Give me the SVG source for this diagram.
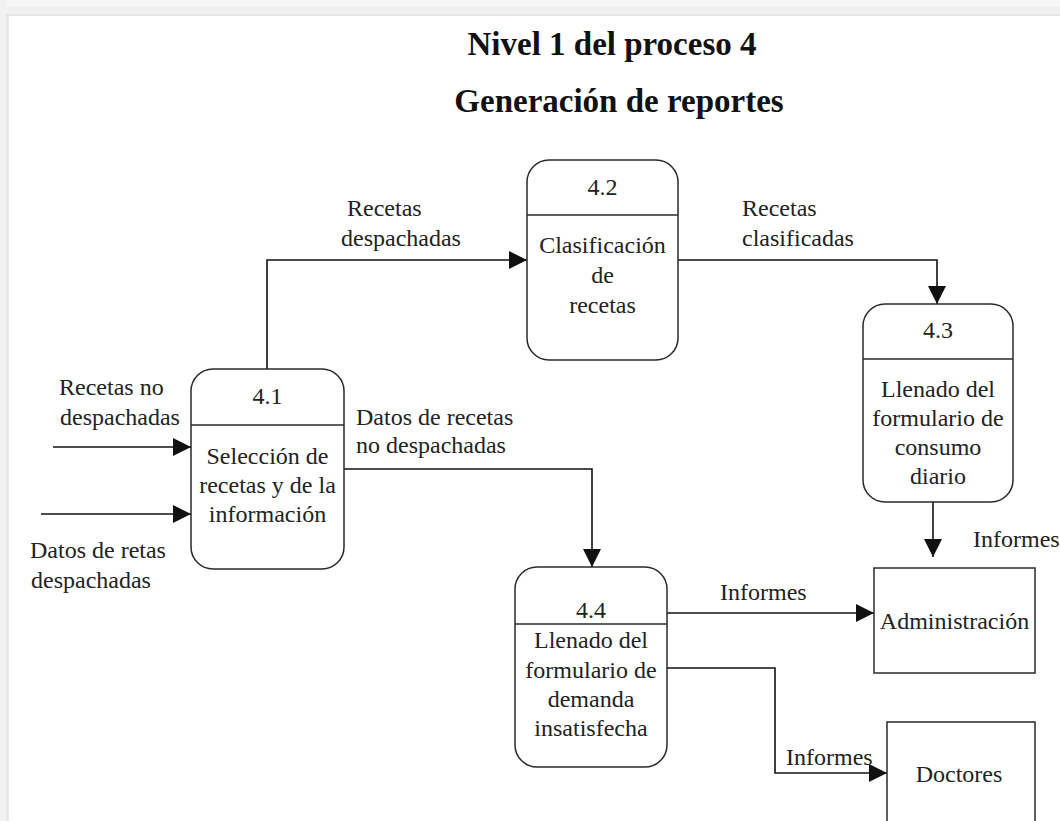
<svg xmlns="http://www.w3.org/2000/svg" width="1060" height="821" viewBox="0 0 1060 821">
  <style>
    text { font-family: "Liberation Serif", "Times New Roman", serif; fill: #222; }
    .title { font-size: 33px; font-weight: bold; text-anchor: middle; fill: #111; }
    .lbl { font-size: 24px; }
    .ctr { font-size: 24px; text-anchor: middle; }
    .proc { fill: #fff; stroke: #2a2a2a; stroke-width: 1.5; }
    .ext { fill: #fff; stroke: #2a2a2a; stroke-width: 1.5; }
    .div { stroke: #2a2a2a; stroke-width: 1.5; }
    .flow { fill: none; stroke: #111; stroke-width: 1.6; marker-end: url(#arrow); }
  </style>
  <defs>
    <marker id="arrow" markerUnits="userSpaceOnUse" markerWidth="18" markerHeight="18" refX="18" refY="9" orient="auto">
      <path d="M0,0 L18,9 L0,18 z" fill="#111"/>
    </marker>
  </defs>

  <!-- page background with grey margin -->
  <rect x="0" y="0" width="1060" height="821" fill="#ffffff"/>
  <rect x="0" y="0" width="1060" height="7" fill="#f6f6f6"/>
  <rect x="0" y="7" width="1060" height="7" fill="#f1f1f1"/>
  <rect x="0" y="14" width="1060" height="2" fill="#e6e6e6"/>
  <rect x="0" y="0" width="6" height="821" fill="#f2f2f2"/>
  <rect x="6" y="16" width="3" height="805" fill="#e8e8e8"/>

  <!-- titles -->
  <g id="title">
    <text class="title" x="612" y="55">Nivel 1 del proceso 4</text>
    <text class="title" x="619" y="112">Generación de reportes</text>
  </g>

  <!-- data flows -->
  <g id="connectors">
    <path class="flow" d="M53 447 H191"/>
    <path class="flow" d="M41 514 H191"/>
    <path class="flow" d="M267 369 V260 H527"/>
    <path class="flow" d="M678 260 H937 V304"/>
    <path class="flow" d="M933 502 V557"/>
    <path class="flow" d="M344 469 H592 V567"/>
    <path class="flow" d="M667 613 H874"/>
    <path class="flow" d="M667 668 H775 V773 H887"/>
  </g>

  <!-- flow labels -->
  <g id="labels">
    <text class="lbl" x="59" y="395">Recetas no</text>
    <text class="lbl" x="60" y="425">despachadas</text>
    <text class="lbl" x="30" y="558">Datos de retas</text>
    <text class="lbl" x="31" y="588">despachadas</text>
    <text class="lbl" x="347" y="216">Recetas</text>
    <text class="lbl" x="341" y="246">despachadas</text>
    <text class="lbl" x="742" y="216">Recetas</text>
    <text class="lbl" x="742" y="246">clasificadas</text>
    <text class="lbl" x="356" y="425">Datos de recetas</text>
    <text class="lbl" x="356" y="453">no despachadas</text>
    <text class="lbl" x="720" y="600">Informes</text>
    <text class="lbl" x="786" y="765">Informes</text>
    <text class="lbl" x="973" y="547">Informes</text>
  </g>

  <!-- process 4.1 -->
  <g id="p41">
    <rect class="proc" x="191" y="369" width="153" height="200" rx="22"/>
    <line class="div" x1="191" y1="425" x2="344" y2="425"/>
    <text class="ctr" x="267.5" y="404">4.1</text>
    <text class="ctr" x="267.5" y="464">Selección de</text>
    <text class="ctr" x="267.5" y="493">recetas y de la</text>
    <text class="ctr" x="267.5" y="522">información</text>
  </g>

  <!-- process 4.2 -->
  <g id="p42">
    <rect class="proc" x="527" y="160" width="151" height="200" rx="22"/>
    <line class="div" x1="527" y1="215" x2="678" y2="215"/>
    <text class="ctr" x="602.5" y="195">4.2</text>
    <text class="ctr" x="602.5" y="253">Clasificación</text>
    <text class="ctr" x="602.5" y="283">de</text>
    <text class="ctr" x="602.5" y="313">recetas</text>
  </g>

  <!-- process 4.3 -->
  <g id="p43">
    <rect class="proc" x="863" y="304" width="150" height="198" rx="22"/>
    <line class="div" x1="863" y1="359" x2="1013" y2="359"/>
    <text class="ctr" x="938" y="338">4.3</text>
    <text class="ctr" x="938" y="397">Llenado del</text>
    <text class="ctr" x="938" y="426">formulario de</text>
    <text class="ctr" x="938" y="455">consumo</text>
    <text class="ctr" x="938" y="484">diario</text>
  </g>

  <!-- process 4.4 -->
  <g id="p44">
    <rect class="proc" x="515" y="567" width="152" height="200" rx="22"/>
    <line class="div" x1="515" y1="624" x2="667" y2="624"/>
    <text class="ctr" x="591" y="618">4.4</text>
    <text class="ctr" x="591" y="648">Llenado del</text>
    <text class="ctr" x="591" y="678">formulario de</text>
    <text class="ctr" x="591" y="707">demanda</text>
    <text class="ctr" x="591" y="736">insatisfecha</text>
  </g>

  <!-- external entities -->
  <g id="administracion">
    <rect class="ext" x="874" y="568" width="161" height="105"/>
    <text class="ctr" x="954.5" y="629">Administración</text>
  </g>
  <g id="doctores">
    <rect class="ext" x="887" y="722" width="148" height="120"/>
    <text class="ctr" x="959" y="782">Doctores</text>
  </g>
</svg>
